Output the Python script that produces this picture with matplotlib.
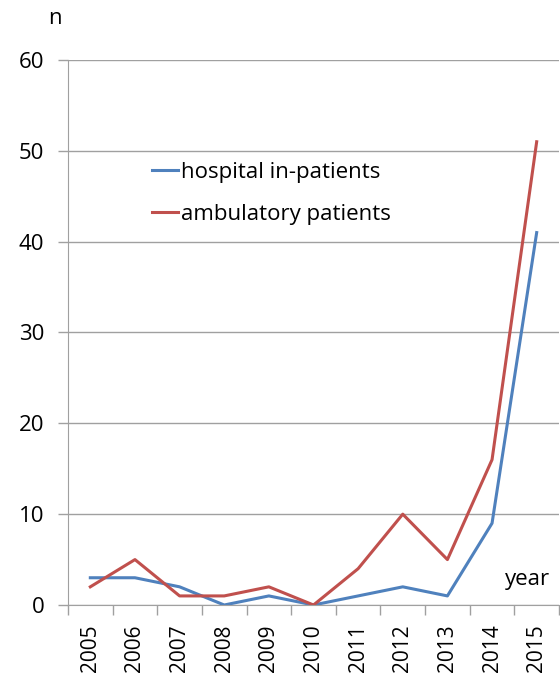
import numpy as np
import matplotlib.pyplot as plt

years = ['2005', '2006', '2007', '2008', '2009', '2010', '2011', '2012', '2013', '2014', '2015']
hospital = [3, 3, 2, 0, 1, 0, 1, 2, 1, 9, 41]
ambulatory = [2, 5, 1, 1, 2, 0, 4, 10, 5, 16, 51]

plt.rcParams['font.family'] = ['Open Sans', 'DejaVu Sans']

fig = plt.figure(figsize=(5.6, 6.79), dpi=100, facecolor='white')
ax = fig.add_axes([68/560, 74/679, 491/560, 545/679])

x = np.arange(len(years))
ax.plot(x, hospital, color='#4F81BD', lw=2.2, label='hospital in-patients')
ax.plot(x, ambulatory, color='#C0504D', lw=2.2, label='ambulatory patients')

ax.set_xlim(-0.5, len(years) - 0.5)
ax.set_ylim(0, 60)
ax.set_yticks(range(0, 61, 10))
ax.tick_params(axis='y', labelsize=16, length=7, color='#A0A0A0', width=1, pad=10)
ax.set_xticks(x)
ax.set_xticklabels(years, rotation=90, fontsize=15)
ax.set_xticks(np.arange(-0.5, len(years)), minor=True)
ax.tick_params(axis='x', which='major', length=0, pad=14)
ax.tick_params(axis='x', which='minor', length=7, color='#A0A0A0', width=1)
ax.grid(axis='y', color='#A0A0A0', lw=1)
ax.set_axisbelow(True)
for s in ['top', 'right']:
    ax.spines[s].set_visible(False)
for s in ['left', 'bottom']:
    ax.spines[s].set_color('#A0A0A0')

ax.legend(loc='upper left', bbox_to_anchor=(0.13, 0.85), frameon=False, fontsize=16,
          handlelength=1.2, handletextpad=0.1, labelspacing=0.95)

fig.text(48/560, 1 - 19/679, 'n', fontsize=16, ha='left', va='center')
fig.text(505/560, 1 - 579/679, 'year', fontsize=16, ha='left', va='center')

fig.savefig('out.png', dpi=100)
